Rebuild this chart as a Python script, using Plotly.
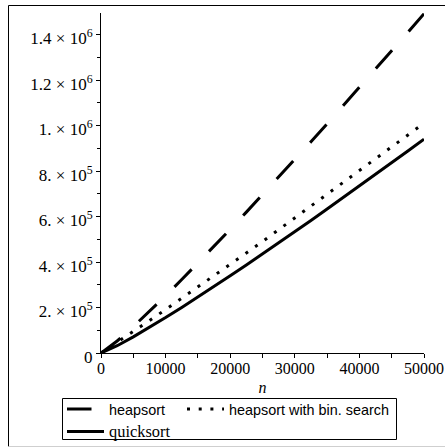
import plotly.graph_objects as go

# ---- data ----
n_values = [0, 2500, 5000, 7500, 10000, 12500, 15000, 17500, 20000, 22500, 25000,
            27500, 30000, 32500, 35000, 37500, 40000, 42500, 45000, 47500, 50000]

heapsort = [0, 52900, 115900, 182600, 251800, 322800, 395200, 468800, 543500, 619100, 695500,
            772600, 850400, 928700, 1007700, 1087100, 1167000, 1247400, 1328200, 1409300, 1491000]

heapsort_bin = [0, 46500, 94500, 142500, 191000, 240000, 289500, 339500, 389000, 439900, 490000,
                541750, 594000, 646750, 698250, 750000, 802000, 854250, 906750, 959500, 1010000]

quicksort = [0, 32000, 70900, 112500, 155700, 200300, 245800, 292100, 339200, 386900, 435200,
             483900, 533200, 582800, 632800, 683200, 733900, 784900, 836200, 887800, 939700]

x_tick_vals = [0, 10000, 20000, 30000, 40000, 50000]
x_tick_text = ["0", "10000", "20000", "30000", "40000", "50000"]
x_minor_vals = [5000, 15000, 25000, 35000, 45000]

y_tick_vals = [0, 200000, 400000, 600000, 800000, 1000000, 1200000, 1400000]
y_tick_text = ["0", "2. × 10<sup>5</sup>", "4. × 10<sup>5</sup>", "6. × 10<sup>5</sup>",
               "8. × 10<sup>5</sup>", "1. × 10<sup>6</sup>", "1.2 × 10<sup>6</sup>",
               "1.4 × 10<sup>6</sup>"]
y_minor_vals = [100000, 300000, 500000, 700000, 900000, 1100000, 1300000]

names = {
    "heapsort": '<span style="font-size:14.4px">heapsort</span>',
    "bin": '<span style="font-size:14.4px">heapsort with bin. search</span>',
    "quick": '<span style="font-family:Liberation Serif;font-size:16.4px">quicksort</span>',
}

fig = go.Figure()
fig.add_trace(go.Scatter(
    x=n_values, y=heapsort, mode="lines", name=names["heapsort"],
    legendgroup="a", legendwidth=68, cliponaxis=False,
    line=dict(color="black", width=3, dash="24.5px,25px")))
fig.add_trace(go.Scatter(
    x=n_values, y=heapsort_bin, mode="lines", name=names["bin"],
    legendgroup="b", cliponaxis=False,
    line=dict(color="black", width=3, dash="3px,8.7px")))
fig.add_trace(go.Scatter(
    x=n_values, y=quicksort, mode="lines", name=names["quick"],
    legendgroup="a", legendwidth=68, cliponaxis=False,
    line=dict(color="black", width=3)))

W, H = 445, 448
L, R, T, B = 101, 21, 13, 95
pw, ph = W - L - R, H - T - B

def px_x(p):
    return (p - L) / pw

def px_y(p):
    return 1 - (p - T) / ph

legend_size = 15
row1_center = 409
legend_top = row1_center - (5 + (legend_size * 1.3 + 3) / 2)

fig.update_layout(
    width=W, height=H,
    margin=dict(l=L, r=R, t=T, b=B, autoexpand=False),
    paper_bgcolor="white", plot_bgcolor="white",
    showlegend=True,
    legend=dict(
        orientation="h", traceorder="grouped",
        x=px_x(62), y=px_y(legend_top), xanchor="left", yanchor="top",
        borderwidth=0, bgcolor="rgba(0,0,0,0)",
        font=dict(family="Liberation Sans", size=legend_size, color="black"),
        itemwidth=37, tracegroupgap=0,
    ),
    xaxis=dict(
        range=[0, 50000], showgrid=False, zeroline=False,
        showline=True, linecolor="black", linewidth=1,
        ticks="outside", ticklen=4, tickwidth=1, tickcolor="black",
        tickmode="array", tickvals=x_tick_vals, ticktext=x_tick_text,
        minor=dict(tickmode="array", tickvals=x_minor_vals, ticks="outside",
                   ticklen=4, tickwidth=1, tickcolor="black", showgrid=False),
        tickfont=dict(family="Liberation Serif", size=16, color="black"),
        ticklabelstandoff=-3, ticklabeloverflow="allow",
        title=dict(text="<i>n</i>", font=dict(family="Liberation Serif", size=16, color="black"),
                   standoff=5),
    ),
    yaxis=dict(
        range=[0, 1494500], showgrid=False, zeroline=False,
        showline=True, linecolor="black", linewidth=1,
        ticks="outside", ticklen=4, tickwidth=1, tickcolor="black",
        tickmode="array", tickvals=y_tick_vals, ticktext=y_tick_text,
        minor=dict(tickmode="array", tickvals=y_minor_vals, ticks="outside",
                   ticklen=3, tickwidth=1, tickcolor="black", showgrid=False),
        tickfont=dict(family="Liberation Serif", size=17, color="black"),
        ticklabelshift=4, ticklabeloverflow="allow",
    ),
    shapes=[
        # outer frame
        dict(type="line", xref="paper", yref="paper", x0=px_x(8.5), x1=px_x(500),
             y0=px_y(5.5), y1=px_y(5.5), line=dict(color="black", width=1)),
        dict(type="line", xref="paper", yref="paper", x0=px_x(8.5), x1=px_x(8.5),
             y0=px_y(5.5), y1=px_y(446.5), line=dict(color="black", width=1)),
        dict(type="line", xref="paper", yref="paper", x0=px_x(8.5), x1=px_x(500),
             y0=px_y(446.5), y1=px_y(446.5), line=dict(color="#cfcfcf", width=1)),
        # legend box
        dict(type="rect", xref="paper", yref="paper", x0=px_x(62.5), x1=px_x(396.5),
             y0=px_y(398.5), y1=px_y(439.5), line=dict(color="black", width=1),
             fillcolor="rgba(0,0,0,0)", layer="below"),
    ],
)

fig.write_html(
    "out.html",
    config={"displayModeBar": False},
    post_script="document.body.style.margin='0';document.body.style.overflow='hidden';",
)
